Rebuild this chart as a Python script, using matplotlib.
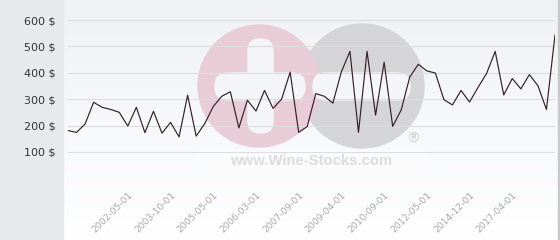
import numpy as np
import matplotlib
matplotlib.use("Agg")
import matplotlib.pyplot as plt
from matplotlib.patches import Circle, FancyBboxPatch, Rectangle

# Price series (one point per period)
prices = [181, 174, 206, 288, 269, 261, 250, 198, 269, 173,
          254, 171, 212, 157, 315, 160, 207, 272, 311, 328,
          191, 296, 255, 333, 265, 300, 402, 174, 196, 321,
          311, 285, 404, 481, 174, 481, 239, 440, 197, 259,
          384, 432, 407, 399, 298, 278, 333, 289, 345, 398,
          481, 316, 378, 339, 393, 351, 261, 543]

tick_labels = ['2002-05-01', '2003-10-01', '2005-05-01', '2006-03-01',
               '2007-09-01', '2009-04-01', '2010-09-01', '2012-05-01',
               '2014-12-01', '2017-04-01']
tick_index = [7, 12, 17, 22, 27, 32, 37, 42, 47, 52]

y_ticks = [100, 200, 300, 400, 500, 600]

W, H = 560, 240
fig = plt.figure(figsize=(W / 100, H / 100), dpi=100)
fig.patch.set_facecolor('white')

# background layer in pixel coordinates
bg = fig.add_axes([0, 0, 1, 1])
bg.set_xlim(0, W)
bg.set_ylim(H, 0)
bg.axis('off')

grad = np.linspace(0, 1, 200).reshape(-1, 1)
top = np.array([0.937, 0.945, 0.961])
bot = np.array([1.0, 1.0, 1.0])
img = top + (bot - top) * grad[..., None]
img = img.reshape(200, 1, 3)
bg.imshow(img, extent=(63, 558, H, 0), aspect='auto', zorder=0)
bg.add_patch(Rectangle((0, 0), 63, H, color='#e6eaed', zorder=1))
bg.add_patch(Rectangle((558, 0), 2, H, color='#c8c8c8', zorder=1))

# watermark
bg.add_patch(Rectangle((197, 150), 230, 24, color='#fbfbfc', zorder=1))
bg.add_patch(Circle((362, 86), 62, color='#d5d5d7', zorder=2))
bg.add_patch(Circle((259, 86), 61, color='#e8ccd6', zorder=3))
bar_c = '#f4f5f8'
bg.add_patch(FancyBboxPatch((248 + 12, 39 + 12), 1, 94 - 24,
                            boxstyle='round,pad=12', color=bar_c, zorder=4))
bg.add_patch(FancyBboxPatch((215 + 13, 73 + 13), 90 - 26, 1,
                            boxstyle='round,pad=13', color=bar_c, zorder=4))
bg.add_patch(FancyBboxPatch((313 + 13, 73 + 13), 97 - 26, 1,
                            boxstyle='round,pad=13', color=bar_c, zorder=4))
bg.text(311, 161, 'www.Wine-Stocks.com', fontsize=10.7, fontweight='bold',
        family='Liberation Sans', color='#dcdcdc', ha='center', va='center',
        zorder=5)
bg.text(413, 139, '\u00ae', fontsize=10, color='#cfcfcf', ha='center',
        va='center', zorder=5)

# main chart
ax = fig.add_axes([68 / W, 1 - 178.3 / H, (555 - 68) / W, (178.3 - 20) / H])
ax.patch.set_alpha(0)
x = np.arange(len(prices))
ax.plot(x, prices, color='#34202a', linewidth=0.85, zorder=3)

ax.set_xlim(0, len(prices) - 1)
ax.set_ylim(0, 600)
ax.set_yticks([0] + y_ticks)
ax.set_yticklabels([''] + [f'{v} $' for v in y_ticks], fontsize=8, color='#333333')
ax.grid(axis='y', color='#dddddd', linewidth=0.8, zorder=1)
ax.set_axisbelow(True)

ax.set_xticks(tick_index)
ax.set_xticklabels(tick_labels, rotation=45, ha='right', rotation_mode='anchor',
                   fontsize=6.6, color='#a8a8a8')
ax.tick_params(axis='x', length=0, pad=9)
ax.tick_params(axis='y', length=0, pad=9)
for s in ax.spines.values():
    s.set_visible(False)

fig.savefig('out.png', dpi=100)
